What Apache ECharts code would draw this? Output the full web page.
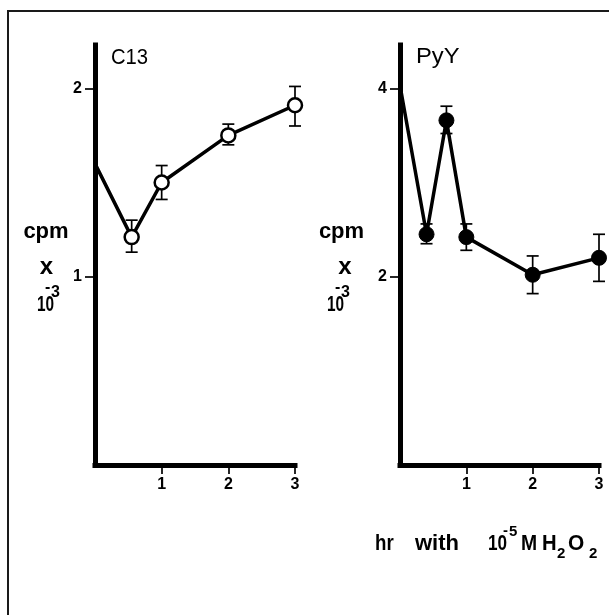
<!DOCTYPE html>
<html><head><meta charset="utf-8">
<script src="https://cdn.jsdelivr.net/npm/echarts@6/dist/echarts.min.js"></script>
<style>html,body{margin:0;padding:0;background:#fff}#c{width:609px;height:615px}</style>
</head><body><div id="c"></div>
<script>
// ---- data ----
const xTicks = [1, 2, 3];
const leftYTicks = [1, 2];
const rightYTicks = [2, 4];
const panelTitles = ['C13', 'PyY'];

// C13 (open circles); first value is the line start at time 0 (no marker)
const leftX = [0, 0.55, 1, 2, 3];
const leftY = [1.60, 1.21, 1.50, 1.75, 1.91];
const leftErrLow = [null, 1.13, 1.41, 1.70, 1.80];
const leftErrHigh = [null, 1.30, 1.59, 1.81, 2.01];

// PyY (filled circles)
const rightX = [0, 0.4, 0.7, 1, 2, 3];
const rightY = [4.03, 2.45, 3.66, 2.42, 2.02, 2.20];
const rightErrLow = [null, 2.35, 3.52, 2.28, 1.82, 1.95];
const rightErrHigh = [null, 2.56, 3.81, 2.56, 2.22, 2.45];

const FONT = "'Liberation Sans', Arial, Helvetica, sans-serif";

function lineData(xs, ys) {
  return xs.map((x, i) => i === 0 ? { value: [x, ys[i]], symbol: 'none' } : [x, ys[i]]);
}
function errData(xs, lo, hi) {
  const out = [];
  xs.forEach((x, i) => { if (lo[i] != null) out.push([x, lo[i], hi[i]]); });
  return out;
}
function renderErr(params, api) {
  const x = api.value(0), lo = api.value(1), hi = api.value(2);
  const a = api.coord([x, lo]), b = api.coord([x, hi]);
  const hw = 6;
  const st = { stroke: '#000', lineWidth: 1.7, fill: null };
  return { type: 'group', children: [
    { type: 'line', shape: { x1: a[0], y1: a[1], x2: b[0], y2: b[1] }, style: st },
    { type: 'line', shape: { x1: a[0] - hw, y1: a[1], x2: a[0] + hw, y2: a[1] }, style: st },
    { type: 'line', shape: { x1: b[0] - hw, y1: b[1], x2: b[0] + hw, y2: b[1] }, style: st }
  ]};
}

function xAxisCfg(g) {
  return {
    gridIndex: g, type: 'value', min: 0, max: 3,
    axisLine: { show: true, onZero: false, lineStyle: { color: '#000', width: 5, cap: 'square' } },
    axisTick: { show: true, length: 9, customValues: xTicks, lineStyle: { color: '#000', width: 1.7 } },
    axisLabel: { show: true, customValues: xTicks, margin: 12, color: '#000',
      fontFamily: FONT, fontWeight: 'bold', fontSize: 16 },
    splitLine: { show: false }
  };
}
function yAxisCfg(g, max, ticks) {
  return {
    gridIndex: g, type: 'value', min: 0, max: max,
    axisLine: { show: true, onZero: false, lineStyle: { color: '#000', width: 5, cap: 'square' } },
    axisTick: { show: true, length: 10, customValues: ticks, lineStyle: { color: '#000', width: 1.7 } },
    axisLabel: { show: true, customValues: ticks, margin: 13, color: '#000',
      fontFamily: FONT, fontWeight: 'bold', fontSize: 16 },
    splitLine: { show: false }
  };
}

// text helper: baseline-positioned text
function txt(str, x, baseline, fs, weight, align, sx) {
  return {
    type: 'text', x: x, y: baseline - 0.3465 * fs, scaleX: sx || 1,
    style: { text: str, fill: '#000', font: weight + ' ' + fs + 'px ' + FONT,
      textAlign: align || 'left', textVerticalAlign: 'middle' },
    silent: true
  };
}

const graphics = [
  { type: 'rect', shape: { x: 8, y: 11, width: 800, height: 800 },
    style: { fill: 'none', stroke: '#1a1a1a', lineWidth: 2 }, silent: true },
  txt(panelTitles[0], 111, 66, 22, 'normal', 'left', 0.92),
  txt(panelTitles[1], 416, 65, 22, 'normal', 'left', 1.08),
  // left y label
  txt('cpm', 46, 240, 22, 'bold', 'center'),
  txt('x', 46.5, 276, 24, 'bold', 'center'),
  txt('10', 37, 313, 22, 'bold', 'left', 0.7),
  txt('-', 45, 293, 16, 'bold', 'left'),
  txt('3', 51, 298, 16, 'bold', 'left'),
  // right y label
  txt('cpm', 341.5, 240, 22, 'bold', 'center'),
  txt('x', 345, 276, 24, 'bold', 'center'),
  txt('10', 327, 313, 22, 'bold', 'left', 0.7),
  txt('-', 335, 293, 16, 'bold', 'left'),
  txt('3', 341, 298, 16, 'bold', 'left'),
  // bottom label
  txt('hr', 375, 552, 22, 'bold', 'left', 0.85),
  txt('with', 415, 552, 22, 'bold', 'left'),
  txt('10', 488, 552, 22, 'bold', 'left', 0.78),
  txt('-', 503, 536, 15, 'bold', 'left'),
  txt('5', 509, 537, 15, 'bold', 'left'),
  txt('M', 521, 552, 22, 'bold', 'left', 0.88),
  txt('H', 542, 552, 22, 'bold', 'left', 0.92),
  txt('2', 557, 559, 15, 'bold', 'left'),
  txt('O', 568, 552, 22, 'bold', 'left', 0.95),
  txt('2', 589, 559, 15, 'bold', 'left')
];

const chart = echarts.init(document.getElementById('c'), null, { renderer: 'canvas' });
chart.setOption({
  animation: false,
  backgroundColor: '#fff',
  grid: [
    { left: 95, top: 45, width: 200, height: 420 },
    { left: 400, top: 45, width: 199, height: 420 }
  ],
  xAxis: [xAxisCfg(0), xAxisCfg(1)],
  yAxis: [yAxisCfg(0, 2.23, leftYTicks), yAxisCfg(1, 4.46, rightYTicks)],
  series: [
    { type: 'custom', xAxisIndex: 0, yAxisIndex: 0, renderItem: renderErr,
      encode: { x: 0, y: [1, 2] }, data: errData(leftX, leftErrLow, leftErrHigh), z: 2, silent: true },
    { type: 'custom', xAxisIndex: 1, yAxisIndex: 1, renderItem: renderErr,
      encode: { x: 0, y: [1, 2] }, data: errData(rightX, rightErrLow, rightErrHigh), z: 2, silent: true },
    { type: 'line', xAxisIndex: 0, yAxisIndex: 0, data: lineData(leftX, leftY),
      symbol: 'circle', symbolSize: 14, z: 3,
      itemStyle: { color: '#fff', borderColor: '#000', borderWidth: 2.5 },
      lineStyle: { color: '#000', width: 3.5 }, silent: true },
    { type: 'line', xAxisIndex: 1, yAxisIndex: 1, data: lineData(rightX, rightY),
      symbol: 'circle', symbolSize: 15, z: 3,
      itemStyle: { color: '#000', borderColor: '#000', borderWidth: 1 },
      lineStyle: { color: '#000', width: 3.5 }, silent: true }
  ],
  graphic: graphics
});
</script>
</body></html>
